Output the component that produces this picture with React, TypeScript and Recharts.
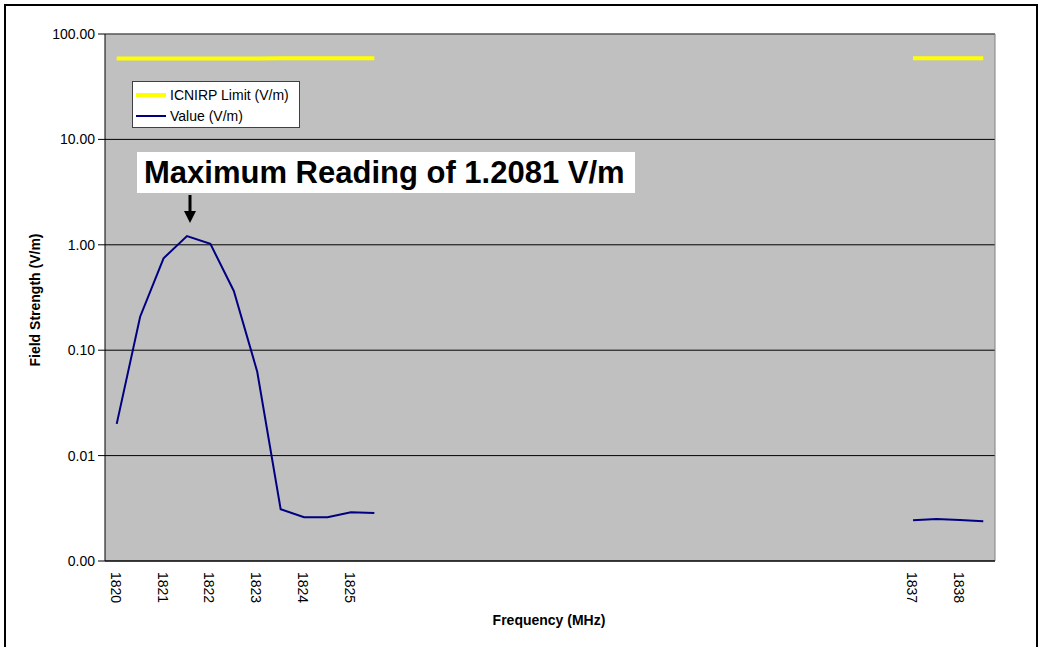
import React from "react";
import {
  LineChart, Line, XAxis, YAxis, CartesianGrid, ReferenceLine,
} from "recharts";

// frequency categories (MHz), one reading every 0.5 MHz
const freqs = [
  1820, 1820.5, 1821, 1821.5, 1822, 1822.5, 1823, 1823.5, 1824, 1824.5, 1825, 1825.5,
  1826, 1826.5, 1827, 1827.5, 1828, 1828.5, 1829, 1829.5, 1830, 1830.5, 1831, 1831.5,
  1832, 1832.5, 1833, 1833.5, 1834, 1834.5, 1835, 1835.5, 1836, 1836.5,
  1837, 1837.5, 1838, 1838.5,
];

// measured field strength (V/m); no readings between 1826 and 1836.5
const values: (number | null)[] = [
  0.02, 0.208, 0.745, 1.2081, 1.02, 0.365, 0.0625, 0.0031, 0.0026, 0.0026, 0.0029, 0.00285,
  null, null, null, null, null, null, null, null, null, null, null, null,
  null, null, null, null, null, null, null, null, null, null,
  0.00243, 0.0025, 0.00245, 0.00238,
];

const limits: (number | null)[] = [
  58.66, 58.67, 58.68, 58.68, 58.69, 58.7, 58.71, 58.72, 58.72, 58.73, 58.74, 58.75,
  null, null, null, null, null, null, null, null, null, null, null, null,
  null, null, null, null, null, null, null, null, null, null,
  58.93, 58.94, 58.95, 58.96,
];

const xTicks = [1820, 1821, 1822, 1823, 1824, 1825, 1837, 1838];
const yTicks = [0.001, 0.01, 0.1, 1, 10, 100];

const series = [
  { key: "limit", name: "ICNIRP Limit (V/m)", color: "#FFFF00", width: 4 },
  { key: "value", name: "Value (V/m)", color: "#000080", width: 2 },
];

const data = freqs.map((f, i) => ({ freq: f, limit: limits[i], value: values[i] }));

const FONT = "'Liberation Sans', Arial, sans-serif";

function XTick(props: any) {
  const { x, y, payload } = props;
  const ty = y + 3;
  return (
    <text
      x={x - 1} y={ty}
      transform={`rotate(90, ${x - 1}, ${ty})`}
      textAnchor="start" dominantBaseline="central"
      fontSize={14} fontFamily={FONT} fill="#000"
    >
      {payload.value}
    </text>
  );
}

export default function App() {
  return (
    <div style={{ position: "absolute", left: 0, top: 0, width: 1043, height: 647, background: "#fff", overflow: "hidden" }}>
      <div style={{
        position: "absolute", left: 4, top: 4, width: 1030, height: 660,
        border: "2px solid #000", borderBottom: "none",
      }} />
      <LineChart
        width={1043} height={647} data={data}
        margin={{ top: 34, right: 48, bottom: 0, left: 0 }}
        style={{ position: "absolute", left: 0, top: 0 }}
      >
        <CartesianGrid vertical={false} stroke="#000" fill="#C0C0C0" fillOpacity={1} />
        <XAxis
          dataKey="freq" type="number" domain={[1819.75, 1838.75]} ticks={xTicks}
          allowDataOverflow interval={0} tickLine={false} tick={<XTick />}
          axisLine={{ stroke: "#000" }} height={86}
        />
        <YAxis
          scale="log" domain={[0.001, 100]} ticks={yTicks} allowDataOverflow width={105}
          tickFormatter={(v: number) => v.toFixed(2)} tickSize={7} tickMargin={3}
          tick={{ fontSize: 14, fontFamily: FONT, fill: "#000" }}
          axisLine={{ stroke: "#000" }} tickLine={{ stroke: "#000" }}
        />
        <ReferenceLine y={100} stroke="#808080" />
        <ReferenceLine x={1838.75} stroke="#808080" />
        {series.map((s) => (
          <Line
            key={s.key} type="linear" dataKey={s.key} name={s.name} stroke={s.color}
            strokeWidth={s.width} dot={false} connectNulls={false} isAnimationActive={false}
          />
        ))}
      </LineChart>

      <div style={{
        position: "absolute", left: 132, top: 81, width: 168, height: 47,
        background: "#fff", border: "1px solid #404040", boxSizing: "border-box",
        padding: "2px 0 0 3px", fontFamily: FONT, fontSize: 14,
      }}>
        {series.map((s) => (
          <div key={s.key} style={{ display: "flex", alignItems: "center", height: 21 }}>
            <span style={{
              display: "inline-block", width: 30, height: s.width, background: s.color, marginRight: 4,
            }} />
            <span>{s.name}</span>
          </div>
        ))}
      </div>

      <div style={{
        position: "absolute", left: 137, top: 152, width: 498, height: 41, background: "#fff",
        fontFamily: FONT, fontWeight: "bold", fontSize: 31, lineHeight: "41px",
        paddingLeft: 7, boxSizing: "border-box", whiteSpace: "nowrap",
      }}>
        Maximum Reading of 1.2081 V/m
      </div>
      <svg style={{ position: "absolute", left: 0, top: 0 }} width={1043} height={647} pointerEvents="none">
        <line x1={190} y1={195} x2={190} y2={213} stroke="#000" strokeWidth={3} />
        <polygon points="184,211 196,211 190,223" fill="#000" />
      </svg>

      <div style={{
        position: "absolute", left: 35, top: 300, transform: "translate(-50%, -50%) rotate(-90deg)",
        fontFamily: FONT, fontWeight: "bold", fontSize: 14, whiteSpace: "nowrap",
      }}>
        Field Strength (V/m)
      </div>
      <div style={{
        position: "absolute", left: 549, top: 620, transform: "translate(-50%, -50%)",
        fontFamily: FONT, fontWeight: "bold", fontSize: 14, whiteSpace: "nowrap",
      }}>
        Frequency (MHz)
      </div>
    </div>
  );
}
